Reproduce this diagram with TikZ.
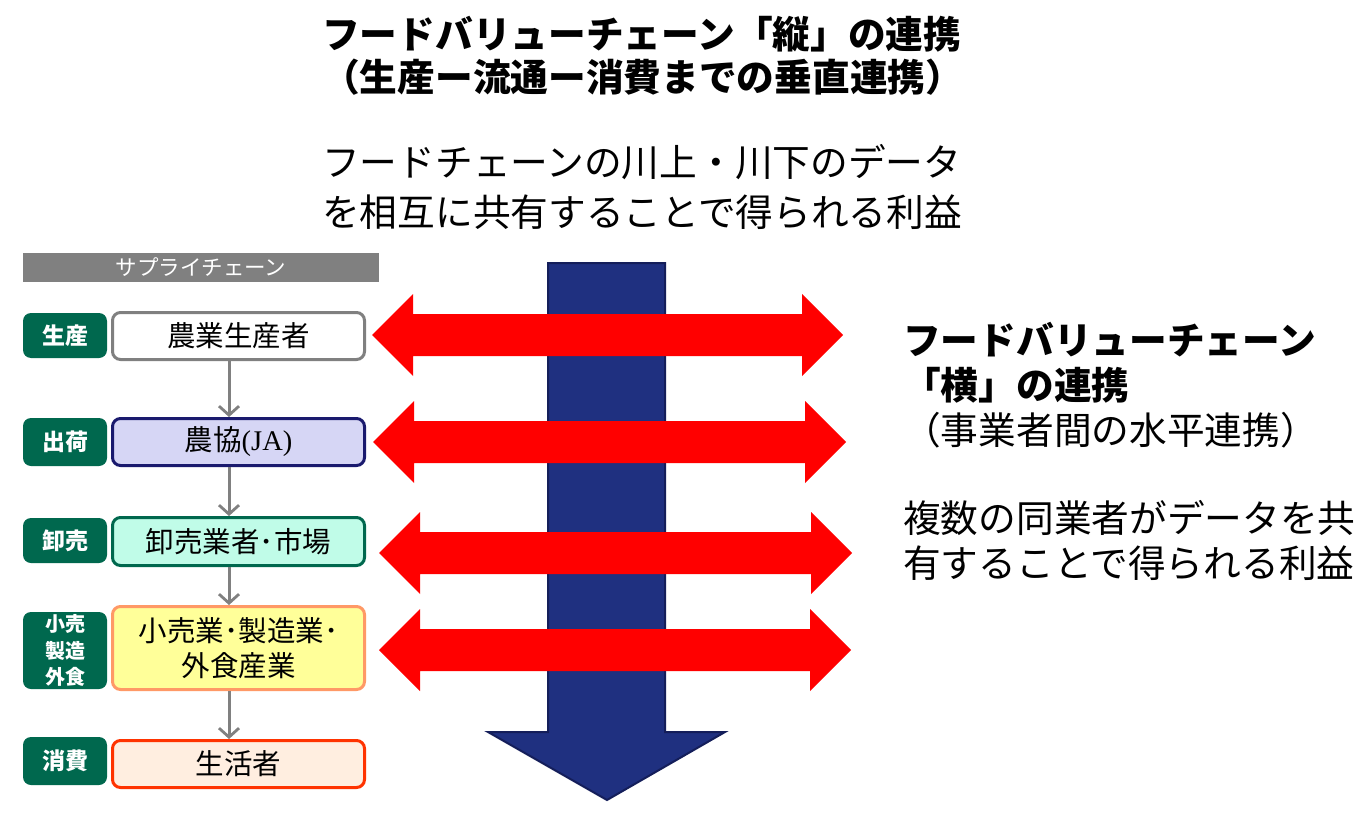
\documentclass[tikz,border=0pt]{standalone}
\usepackage{fontspec}
\setmainfont{Noto Sans CJK JP}
\newfontfamily\latinserif{Liberation Serif}
\usetikzlibrary{arrows.meta}
\definecolor{labgreen}{RGB}{0,104,78}
\definecolor{barGray}{RGB}{128,128,128}
\definecolor{navyB}{RGB}{26,26,110}
\definecolor{lavender}{RGB}{214,214,245}
\definecolor{mint}{RGB}{192,252,232}
\definecolor{orangeB}{RGB}{255,153,102}
\definecolor{lightYellow}{RGB}{255,255,153}
\definecolor{redOrange}{RGB}{255,51,0}
\definecolor{peach}{RGB}{255,238,224}
\definecolor{blueFill}{RGB}{31,48,128}
\definecolor{blueEdge}{RGB}{20,30,90}
\definecolor{arrowRed}{RGB}{255,0,0}
\tikzset{
  bigtxt/.style={anchor=base west, inner sep=0pt, font=\fontsize{37.7}{44}\selectfont},
  bigbold/.style={bigtxt, font=\fontsize{37.7}{44}\selectfont\bfseries},
  stage/.style={fill=labgreen, rounded corners=8pt, minimum width=84pt, inner sep=0pt,
    text=white, font=\fontsize{23}{27}\selectfont\bfseries, align=center},
  actor/.style={draw, line width=3pt, rounded corners=8pt, minimum width=252pt, inner sep=0pt,
    font=\fontsize{28.5}{35}\selectfont, align=center},
  flow/.style={draw=barGray, line width=3pt, -{Straight Barb[length=9pt,width=20pt,line width=2.8pt]}},
  redarrow/.style={fill=arrowRed},
  bluearrow/.style={fill=blueFill, draw=blueEdge, line width=2pt, line join=miter}
}
\newcommand\dblarrow[3]{%
  \fill[redarrow] (#1,#3) -- ({#1+41},{#3-41}) -- ({#1+41},{#3-21}) -- ({#2-41},{#3-21})
   -- ({#2-41},{#3-41}) -- (#2,#3) -- ({#2-41},{#3+41}) -- ({#2-41},{#3+21})
   -- ({#1+41},{#3+21}) -- ({#1+41},{#3+41}) -- cycle;}
\begin{document}
\begin{tikzpicture}[x=1pt,y=-1pt]
\useasboundingbox[fill=white] (0,0) rectangle (1359,813);

% titles
\node[bigbold] (t1) at (322,49) {フードバリューチェーン「縦」の連携};
\node[bigbold] (t2) at (322,92) {（生産ー流通ー消費までの垂直連携）};
\node[bigtxt] (t3) at (322,177) {フードチェーンの川上・川下のデータ};
\node[bigtxt] (t4) at (322,226) {を相互に共有することで得られる利益};

\node[bigbold] (r1) at (903,354) {フードバリューチェーン};
\node[bigbold] (r2) at (903,399) {「横」の連携};
\node[bigtxt] (r3) at (903,444) {（事業者間の水平連携）};
\node[bigtxt] (r4) at (903,532) {複数の同業者がデータを共};
\node[bigtxt] (r5) at (903,577) {有することで得られる利益};

% blue vertical arrow
\path[bluearrow] (548,263) -- (665,263) -- (665,732) -- (725,732) -- (607,800)
  -- (488,732) -- (548,732) -- cycle;

% red horizontal arrows
\dblarrow{372}{843}{335}
\dblarrow{373}{846}{442}
\dblarrow{379}{852}{553}
\dblarrow{379}{851}{650}

% supply chain header
\node[fill=barGray, minimum width=356pt, minimum height=29pt, inner sep=0pt,
  text=white, font=\fontsize{21.5}{24}\selectfont] (hdr) at (201,267.5) {サプライチェーン};

% stage labels
\node[stage, minimum height=45pt] (s1) at (65,335.5) {生産};
\node[stage, minimum height=48pt] (s2) at (65,442) {出荷};
\node[stage, minimum height=45pt] (s3) at (65,540.5) {卸売};
\node[stage, minimum height=77pt, font=\fontsize{20}{26.5}\selectfont\bfseries] (s4) at (65,650.5) {小売\\製造\\外食};
\node[stage, minimum height=48pt] (s5) at (65,761) {消費};

% actor boxes
\node[actor, draw=barGray, fill=white, minimum height=47pt] (b1) at (238.5,336) {農業生産者};
\node[actor, draw=navyB, fill=lavender, minimum height=47pt] (b2) at (238.5,442) {農協{\latinserif (JA)}};
\node[actor, draw=labgreen, fill=mint, minimum height=48pt] (b3) at (238.5,541.5) {卸売業者･市場};
\node[actor, draw=orangeB, fill=lightYellow, minimum height=83pt] (b4) at (238.5,648) {小売業･製造業･\\外食産業};
\node[actor, draw=redOrange, fill=peach, minimum height=47pt] (b5) at (238.5,764) {生活者};

% flow arrows
\coordinate (ax) at (229,0);
\draw[flow] (b1.south -| ax) -- (b2.north -| ax);
\draw[flow] (b2.south -| ax) -- (b3.north -| ax);
\draw[flow] (b3.south -| ax) -- (b4.north -| ax);
\draw[flow] (b4.south -| ax) -- (b5.north -| ax);
\end{tikzpicture}
\end{document}
